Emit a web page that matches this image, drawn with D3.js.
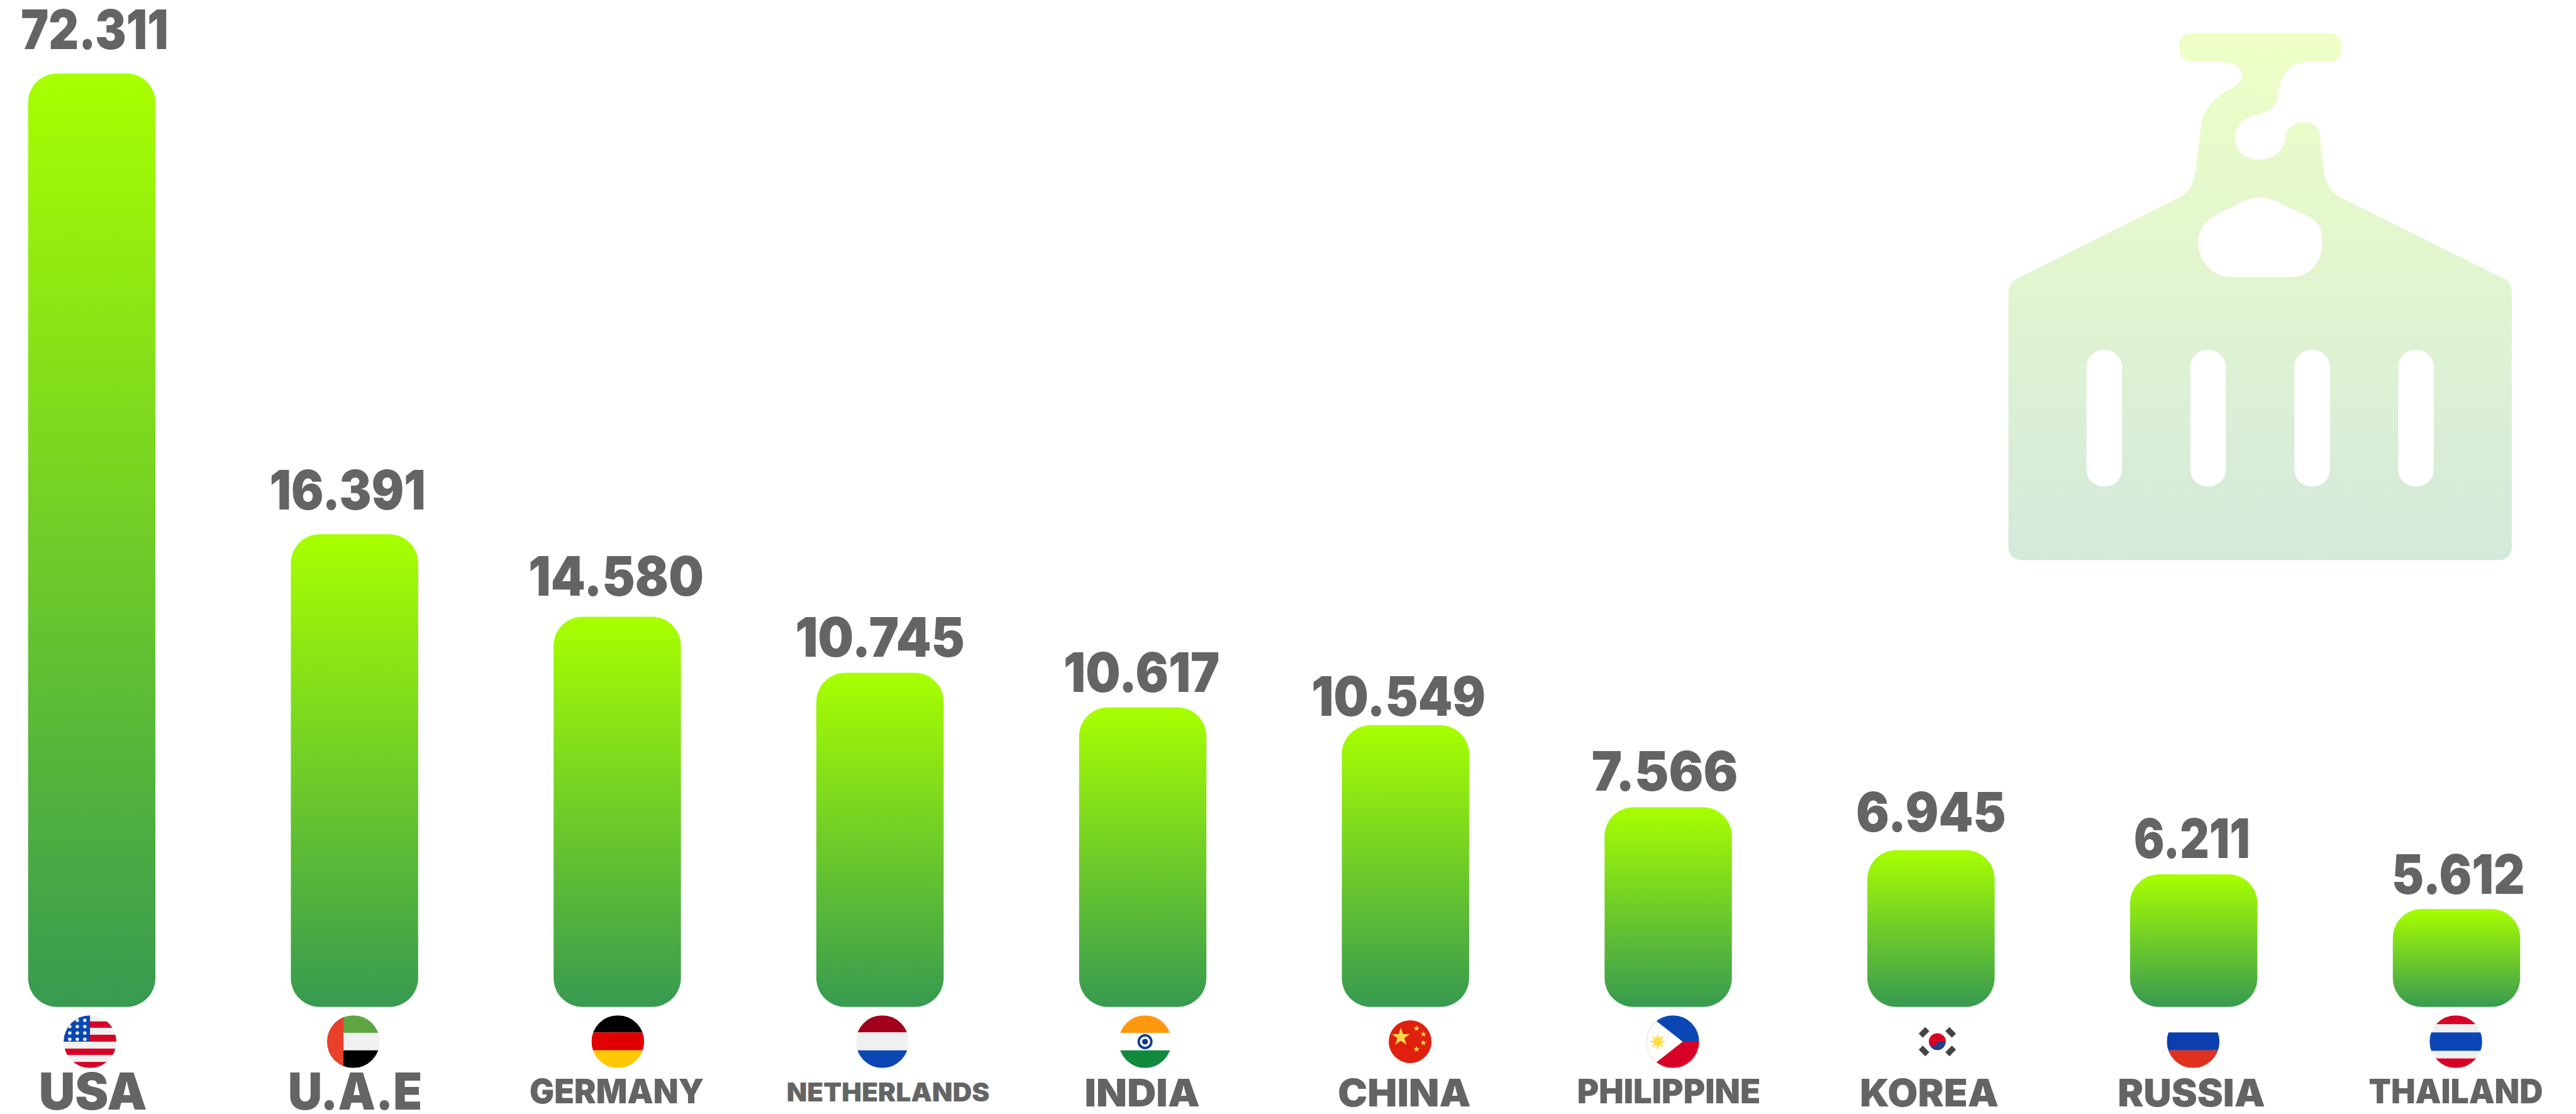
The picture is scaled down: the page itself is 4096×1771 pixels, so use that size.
<!DOCTYPE html>
<html>
<head>
<meta charset="utf-8">
<script src="https://cdn.jsdelivr.net/npm/d3@7"></script>
<style>
  html, body { margin: 0; padding: 0; background: #fff; overflow: hidden; }
  svg { display: block; }
  text { font-family: Inter, "Open Sans", sans-serif; font-weight: 900; fill: #646464; }
</style>
</head>
<body>
<div id="container"></div>
<script>
// Values as printed on the chart
const categories = ["USA", "U.A.E", "GERMANY", "NETHERLANDS", "INDIA", "CHINA", "PHILIPPINE", "KOREA", "RUSSIA", "THAILAND"];
const values = [72.311, 16.391, 14.580, 10.745, 10.617, 10.549, 7.566, 6.945, 6.211, 5.612];

// The picture does not draw bars in proportion to the printed values,
// so bar lengths are read off separately, as % of the tallest bar
const barLevels = [100, 50.65, 41.8, 35.8, 32.1, 30.2, 21.4, 16.8, 14.2, 10.5];

// Everything below is in reference pixels, viewBox scales it to 0.92
const W = 4451, H = 1925;
const win = { width: 4096, height: 1771 };

// Label layout, index-aligned with categories
const valueGap = [42, 43, 36, 28, 27, 16, 29, 32, 28, 26];
const valueNudge = [5, -12, -2, 0, -2, -12, -6, 0, -3, 3];
const valueWidth = [255, 270, 303, 293, 270, 301, 253, 259, 201, 230];
const flagNudge = [-3, -2, 1, 4, 4, 8, 8, 11, -1, -1];
const labelNudge = [2, 1, -1, 14, -1, -2, 1, -3, -4, -1];
const labelWidth = [187, 232, 301, 351, 199, 230, 317, 240, 255, 301];
const labelBase = [1917, 1917, 1907, 1903, 1912, 1912, 1907, 1912, 1912, 1907];
const labelSize = [88, 88, 58, 45, 66, 66, 58, 66, 66, 58];

const svg = d3.select("#container")
  .append("svg")
  .attr("width", win.width)
  .attr("height", win.height)
  .attr("viewBox", `0 0 ${W} ${H}`);

const defs = svg.append("defs");

const barGrad = defs.append("linearGradient")
  .attr("id", "barGrad")
  .attr("x1", 0).attr("x2", 0).attr("y1", 0).attr("y2", 1);
barGrad.append("stop").attr("offset", 0).attr("stop-color", "#a8ff00");
barGrad.append("stop").attr("offset", 1).attr("stop-color", "#379a50");

const iconGrad = defs.append("linearGradient")
  .attr("id", "iconGrad")
  .attr("x1", 0).attr("x2", 0).attr("y1", 0).attr("y2", 1);
iconGrad.append("stop").attr("offset", 0).attr("stop-color", "#eeffc6");
iconGrad.append("stop").attr("offset", 1).attr("stop-color", "#d3e9db");

// Scales
const xScale = d3.scaleBand().domain(categories).range([48, 4355]).paddingInner(0.5155).paddingOuter(0);
const yScale = d3.scaleLinear().domain([0, 100]).range([1740, 127]);
const cx = d => xScale(d) + xScale.bandwidth() / 2;
const fmt = d3.format(".3f");

// Container icon, top right
const icon = svg.append("g").attr("transform", "translate(3400,30) scale(0.625,0.613)");
icon.append("path")
  .attr("fill", "url(#iconGrad)")
  .attr("fill-rule", "evenodd")
  .attr("d", "M620,45 L1000,45 Q1035,45 1035,85 Q1035,125 1000,125 L950,125 C890,125 865,165 860,210 C855,255 840,262 800,275 C760,285 740,305 740,340 C740,380 770,400 810,400 C850,400 875,375 880,335 C885,310 905,295 930,295 C960,295 975,315 975,340 L985,430 C990,470 1005,495 1040,512 L1480,735 Q1505,745 1505,775 L1505,1490 Q1505,1530 1465,1530 L155,1530 Q113,1530 113,1490 L113,775 Q113,750 140,735 L590,505 C620,490 630,450 635,400 L645,310 C650,260 680,225 730,200 C755,185 765,170 755,150 C745,130 725,128 700,125 L625,125 Q585,125 585,85 Q585,45 620,45 Z M770,515 Q805,500 845,515 L950,565 C975,580 985,610 980,650 C975,700 940,732 890,732 L725,732 C680,732 640,690 638,640 C636,600 660,570 690,555 Z");
icon.selectAll(".slot")
  .data([378, 665, 953, 1240])
  .join("rect")
  .attr("x", d => d - 49).attr("y", 938)
  .attr("width", 98).attr("height", 384)
  .attr("rx", 46)
  .attr("fill", "#fff");

// Bars
svg.selectAll(".bar")
  .data(categories)
  .join("rect")
  .attr("class", "bar")
  .attr("x", d => xScale(d))
  .attr("y", (d, i) => yScale(barLevels[i]))
  .attr("width", xScale.bandwidth())
  .attr("height", (d, i) => yScale(0) - yScale(barLevels[i]))
  .attr("rx", 50)
  .attr("fill", "url(#barGrad)");

// Value labels
svg.selectAll(".value")
  .data(categories)
  .join("text")
  .attr("class", "value")
  .attr("x", (d, i) => cx(d) + valueNudge[i])
  .attr("y", (d, i) => yScale(barLevels[i]) - valueGap[i])
  .attr("text-anchor", "middle")
  .attr("textLength", (d, i) => valueWidth[i])
  .attr("lengthAdjust", "spacingAndGlyphs")
  .style("font-size", "94px")
  .text((d, i) => fmt(values[i]));

// Category labels
svg.selectAll(".label")
  .data(categories)
  .join("text")
  .attr("class", "label")
  .attr("x", (d, i) => cx(d) + labelNudge[i])
  .attr("y", (d, i) => labelBase[i])
  .attr("text-anchor", "middle")
  .attr("textLength", (d, i) => labelWidth[i])
  .attr("lengthAdjust", "spacingAndGlyphs")
  .style("font-size", (d, i) => `${labelSize[i]}px`)
  .text(d => d);

// Flags, drawn around (0,0) and clipped to a circle
const R = 45.5;
defs.append("clipPath").attr("id", "flagClip").append("circle").attr("r", R);
defs.append("clipPath").attr("id", "chinaClip").append("circle").attr("r", 37);

const red = "#d80027", blue = "#0b47b4", paper = "#f0f0f0", yellow = "#ffda44";

function band(g, y0, y1, fill, x0 = -R, x1 = R) {
  g.append("rect").attr("x", x0).attr("y", y0).attr("width", x1 - x0).attr("height", y1 - y0).attr("fill", fill);
}
function star(g, x, y, size, fill) {
  g.append("path")
    .attr("transform", `translate(${x},${y})`)
    .attr("d", d3.symbol().type(d3.symbolStar).size(size)())
    .attr("fill", fill);
}

const flags = {
  "USA": g => {
    band(g, -R, R, paper);
    [[-35, -24], [-12, 0], [12, 23], [35, R]].forEach(s => band(g, s[0], s[1], red));
    band(g, -R, 0, blue, -R, 0);
    d3.range(4).forEach(r => d3.range(3).forEach(c => {
      g.append("circle").attr("cx", -35 + c * 13).attr("cy", -37 + r * 11).attr("r", 3).attr("fill", paper);
    }));
  },
  "U.A.E": g => {
    band(g, -R, -15, "#5fa544");
    band(g, -15, 15, paper);
    band(g, 15, R, "#000");
    band(g, -R, R, "#e8402a", -R, -17);
  },
  "GERMANY": g => {
    band(g, -R, -16, "#000");
    band(g, -16, 15, "#e00000");
    band(g, 15, R, "#ffc800");
  },
  "NETHERLANDS": g => {
    band(g, -R, -16, "#a2001d");
    band(g, -16, 15, paper);
    band(g, 15, R, blue);
  },
  "INDIA": g => {
    band(g, -R, -15, "#ff9811");
    band(g, -15, 15, "#fff");
    band(g, 15, R, "#128a3e");
    g.append("circle").attr("r", 11).attr("fill", "#fff").attr("stroke", "#0b3a8a").attr("stroke-width", 4);
    g.append("circle").attr("r", 5).attr("fill", "#0b3a8a");
  },
  "CHINA": g => {
    g.attr("clip-path", "url(#chinaClip)");
    band(g, -R, R, "#e0200f");
    star(g, -16, -8, 300, yellow);
    [[11, -23], [23, -13], [23, 2], [11, 13]].forEach(p => star(g, p[0], p[1], 36, yellow));
  },
  "PHILIPPINE": g => {
    band(g, -R, 0, blue);
    band(g, 0, R, red);
    g.append("polygon").attr("points", `17,0 ${-R},-49 ${-R},49`).attr("fill", "#fff");
    // sun with eight rays
    const sun = g.append("g").attr("transform", "translate(-26,0)");
    sun.append("circle").attr("r", 7).attr("fill", yellow);
    d3.range(8).forEach(k => {
      sun.append("polygon")
        .attr("points", "-2.5,-5 2.5,-5 0,-15")
        .attr("transform", `rotate(${k * 45})`)
        .attr("fill", yellow);
    });
  },
  "KOREA": g => {
    g.append("circle").attr("r", R).attr("fill", "#fff");
    g.append("path").attr("d", "M-14.5,0 A14.5,14.5 0 0 1 14.5,0 Z").attr("fill", "#d80027");
    g.append("path").attr("d", "M-14.5,0 A14.5,14.5 0 0 0 14.5,0 Z").attr("fill", "#1f3f8f");
    g.append("path").attr("d", "M-14.5,0 A7.25,7.25 0 0 0 0,0 A7.25,7.25 0 0 1 14.5,0 A14.5,14.5 0 0 0 -14.5,0 Z").attr("fill", "#d80027");
    [[-23, -16, 45], [23, -16, -45], [-23, 16, -45], [23, 16, 45]].forEach(p => {
      g.append("rect")
        .attr("x", -5).attr("y", -8).attr("width", 10).attr("height", 16)
        .attr("transform", `translate(${p[0]},${p[1]}) rotate(${p[2]})`)
        .attr("fill", "#444");
    });
  },
  "RUSSIA": g => {
    band(g, -R, -16, "#fff");
    band(g, -16, 15, "#0b3fb0");
    band(g, 15, R, "#e0301e");
  },
  "THAILAND": g => {
    band(g, -R, -30, red);
    band(g, -30, -16, paper);
    band(g, -16, 16, blue);
    band(g, 16, 29, paper);
    band(g, 29, R, red);
  },
};

categories.forEach((d, i) => {
  const g = svg.append("g")
    .attr("transform", `translate(${cx(d) + flagNudge[i]},1800)`)
    .append("g")
    .attr("clip-path", "url(#flagClip)");
  flags[d](g);
});
</script>
</body>
</html>
